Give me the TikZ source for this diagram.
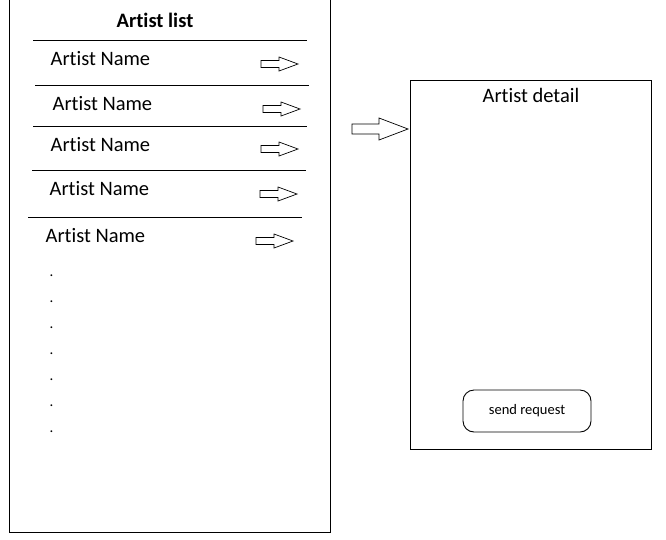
\documentclass[tikz,border=0pt]{standalone}
\usepackage{fontspec}
\setmainfont{Carlito}[Ligatures=NoCommon]
\begin{document}
\begin{tikzpicture}[x=1pt,y=-1pt,
  frame/.style={draw=black,line width=1pt},
  sep/.style={draw=black,line width=0.9pt},
  big/.style={font=\fontsize{20.5}{24}\selectfont,inner sep=0pt,anchor=base west},
  small/.style={font=\fontsize{14.5}{17}\selectfont,inner sep=0pt},
  dotlbl/.style={font=\fontsize{15}{17}\selectfont,inner sep=0pt,anchor=base},
  pics/blockarrow/.style n args={4}{code={%
    % #1 length, #2 head start, #3 shaft half-height, #4 head half-height
    \draw[black,line width=0.7pt,fill=white,line join=miter]
      (0,-#3) -- (#2,-#3) -- (#2,-#4) -- (#1,0) -- (#2,#4) -- (#2,#3) -- (0,#3) -- cycle;}}
]
\useasboundingbox (0,0) rectangle (666,539);
% left screen
\draw[frame] (9.5,-2) coordinate (lt) -- (9.5,532) coordinate (lb) -- (330,532) coordinate (rb) -- (330,-2) coordinate (rt);
\node[font=\bfseries\fontsize{20.5}{24}\selectfont,inner sep=0pt,anchor=base] (title) at (155,27) {Artist list};
\coordinate (s1a) at (33,40);  \coordinate (s1b) at (307,40);
\coordinate (s2a) at (35,85);  \coordinate (s2b) at (309,85);
\coordinate (s3a) at (33,126); \coordinate (s3b) at (307,126);
\coordinate (s4a) at (32,170); \coordinate (s4b) at (306,170);
\coordinate (s5a) at (28,217); \coordinate (s5b) at (302,217);
\draw[sep] (s1a) -- (s1b);
\draw[sep] (s2a) -- (s2b);
\draw[sep] (s3a) -- (s3b);
\draw[sep] (s4a) -- (s4b);
\draw[sep] (s5a) -- (s5b);
\node[big] (n1) at (50.5,65) {Artist Name};
\node[big] (n2) at (52.5,110) {Artist Name};
\node[big] (n3) at (50.5,151) {Artist Name};
\node[big] (n4) at (49.5,195) {Artist Name};
\node[big] (n5) at (45.5,242) {Artist Name};
\pic (a1) at (261,64) {blockarrow={37}{18}{3.5}{7}};
\pic (a2) at (263,109) {blockarrow={37}{18}{3.5}{7}};
\pic (a3) at (261,149) {blockarrow={37}{18}{3.5}{7}};
\pic (a4) at (260,194) {blockarrow={37}{18}{3.5}{7}};
\pic (a5) at (256,241) {blockarrow={37}{18}{3.5}{7}};
\foreach \i/\yy in {1/276,2/302,3/328,4/354,5/380,6/406,7/432}
  \node[dotlbl] (d\i) at (51.5,\yy) {.};
% transition arrow
\pic (big) at (352,129) {blockarrow={56}{27}{5}{11}};
% right screen
\node[frame,minimum width=241pt,minimum height=369pt,inner sep=0pt,anchor=north west] (detail) at (410,80) {};
\node[big,anchor=base] (dtitle) at (531,102) {Artist detail};
\node[draw=black,line width=0.9pt,rounded corners=11pt,minimum width=128pt,minimum height=42pt,inner sep=0pt,small] (btn) at (527,411) {send request};
\end{tikzpicture}
\end{document}
